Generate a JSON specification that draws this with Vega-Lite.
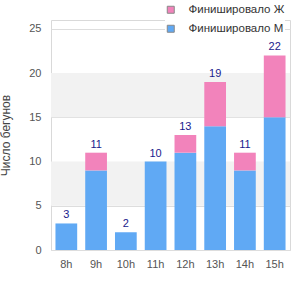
{
  "$schema": "https://vega.github.io/schema/vega-lite/v6.json",
  "width": 239,
  "height": 230,
  "autosize": {"type": "none"},
  "padding": {"left": 51, "top": 20, "right": 10, "bottom": 50},
  "config": {
    "font": "Liberation Sans",
    "view": {"stroke": "#d9d9d9", "strokeWidth": 1},
    "axis": {"labelColor": "#555555", "labelFontSize": 11, "titleColor": "#444444", "titleFontWeight": "normal", "titleFontSize": 12}
  },
  "datasets": {
    "runners": [
      {"hour": "8h", "sex": "Финишировало М", "count": 3},
      {"hour": "8h", "sex": "Финишировало Ж", "count": 0},
      {"hour": "9h", "sex": "Финишировало М", "count": 9},
      {"hour": "9h", "sex": "Финишировало Ж", "count": 2},
      {"hour": "10h", "sex": "Финишировало М", "count": 2},
      {"hour": "10h", "sex": "Финишировало Ж", "count": 0},
      {"hour": "11h", "sex": "Финишировало М", "count": 10},
      {"hour": "11h", "sex": "Финишировало Ж", "count": 0},
      {"hour": "12h", "sex": "Финишировало М", "count": 11},
      {"hour": "12h", "sex": "Финишировало Ж", "count": 2},
      {"hour": "13h", "sex": "Финишировало М", "count": 14},
      {"hour": "13h", "sex": "Финишировало Ж", "count": 5},
      {"hour": "14h", "sex": "Финишировало М", "count": 9},
      {"hour": "14h", "sex": "Финишировало Ж", "count": 2},
      {"hour": "15h", "sex": "Финишировало М", "count": 15},
      {"hour": "15h", "sex": "Финишировало Ж", "count": 7}
    ],
    "bands": [
      {"from": 5, "to": 10},
      {"from": 15, "to": 20}
    ]
  },
  "layer": [
    {
      "data": {"name": "bands"},
      "mark": {"type": "rect", "color": "#f2f2f2"},
      "encoding": {
        "y": {"field": "from", "type": "quantitative", "scale": {"domain": [0, 25]}},
        "y2": {"field": "to"}
      }
    },
    {
      "data": {"name": "runners"},
      "mark": {"type": "bar"},
      "encoding": {
        "x": {
          "field": "hour", "type": "nominal", "sort": null,
          "scale": {"paddingInner": 0.27, "paddingOuter": 0.15},
          "axis": {"title": null, "labelAngle": 0, "ticks": false, "domain": false, "labelPadding": 8}
        },
        "y": {
          "field": "count", "type": "quantitative", "aggregate": "sum", "stack": "zero",
          "scale": {"domain": [0, 25]},
          "axis": {"title": "Число бегунов", "values": [0, 5, 10, 15, 20, 25], "gridColor": "#dddddd", "ticks": false, "domain": false, "labelPadding": 10, "titlePadding": 16}
        },
        "color": {
          "field": "sex", "type": "nominal",
          "scale": {"domain": ["Финишировало Ж", "Финишировало М"], "range": ["#f283bb", "#60a9f4"]},
          "legend": {
            "title": null, "orient": "none", "legendX": 114, "legendY": -16,
            "symbolType": "square", "symbolSize": 49, "symbolStrokeColor": "#888888", "symbolStrokeWidth": 1,
            "labelFontSize": 11.5, "labelColor": "#333333", "rowPadding": 6, "labelOffset": 12,
            "fillColor": "white"
          }
        },
        "order": {"field": "sex", "sort": "descending"}
      }
    },
    {
      "data": {"name": "runners"},
      "transform": [{"aggregate": [{"op": "sum", "field": "count", "as": "total"}], "groupby": ["hour"]}],
      "mark": {"type": "text", "dy": -8, "fontSize": 11, "color": "#1a1a8c"},
      "encoding": {
        "x": {"field": "hour", "type": "nominal", "sort": null},
        "y": {"field": "total", "type": "quantitative"},
        "text": {"field": "total", "type": "quantitative"}
      }
    }
  ]
}
